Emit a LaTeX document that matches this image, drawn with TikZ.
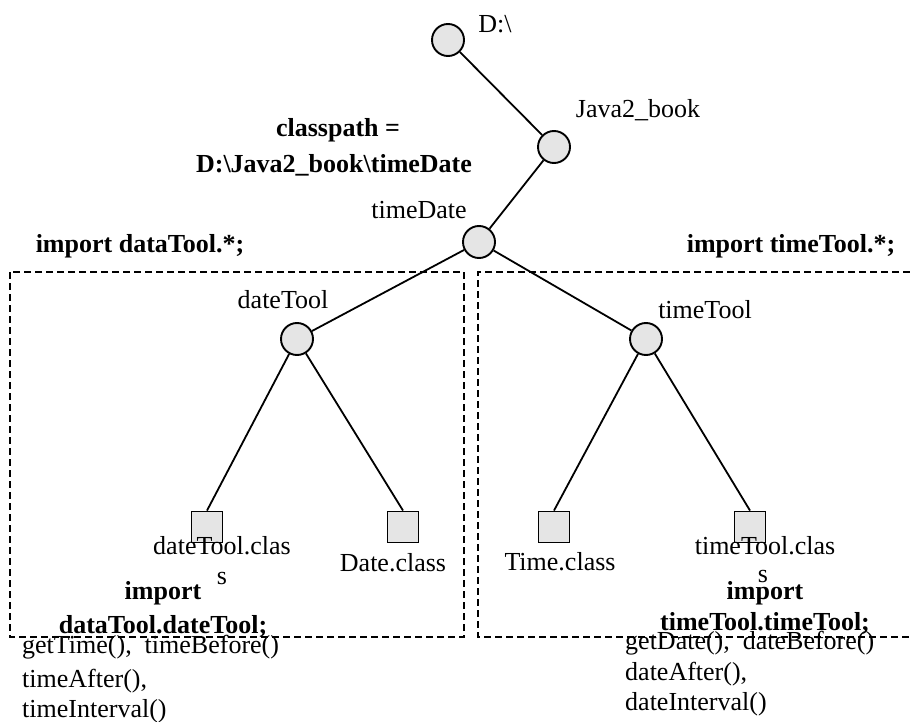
\documentclass[tikz,border=0pt]{standalone}
\usepackage{fontspec}
\setmainfont{Liberation Serif}
\begin{document}
\begin{tikzpicture}[x=1pt,y=-1pt,
  txt/.style={inner sep=0pt,anchor=center,font=\fontsize{26}{30}\selectfont},
  btxt/.style={txt,font=\fontsize{26}{30}\selectfont\bfseries},
  dir/.style={circle,draw,line width=1.9pt,fill=gray!20,minimum size=32pt,inner sep=0pt},
  cls/.style={rectangle,draw,line width=1.9pt,fill=gray!20,minimum size=31pt,inner sep=0pt},
  edge/.style={line width=1.8pt},
  frame/.style={line width=1.5pt,dash pattern=on 7pt off 4pt}]
\useasboundingbox (0,0) rectangle (910,722);
% directory nodes
\node[dir] (d) at (448,40) {};
\node[dir] (j) at (554,147) {};
\node[dir] (t) at (479,242) {};
\node[dir] (dt) at (297,339) {};
\node[dir] (tt) at (646,339) {};
% class files
\node[cls] (s1) at (207,527) {};
\node[cls] (s2) at (403,527) {};
\node[cls] (s3) at (554,527) {};
\node[cls] (s4) at (750,527) {};
% connectors
\draw[edge] (d) -- (j);
\draw[edge] (j) -- (t);
\draw[edge] (t) -- (dt);
\draw[edge] (t) -- (tt);
\draw[edge] (dt) -- (s1.north);
\draw[edge] (dt) -- (s2.north);
\draw[edge] (tt) -- (s3.north);
\draw[edge] (tt) -- (s4.north);
% dashed frames
\draw[frame] (10,272) rectangle (464,637);
\draw[frame] (910,272) -- (478,272) -- (478,637) -- (910,637);
% labels
\node[txt] (ld) at (495,24) {D:\textbackslash};
\node[txt] (lj) at (638,110) {Java2\_book};
\node[btxt] (cp1) at (338,130) {classpath =};
\node[btxt] (cp2) at (334,165) {D:\textbackslash Java2\_book\textbackslash timeDate};
\node[txt] (lt) at (419,210) {timeDate};
\node[btxt] (imp1) at (140,246) {import dataTool.*;};
\node[btxt] (imp2) at (791,246) {import timeTool.*;};
\node[txt] (ldt) at (283,300) {dateTool};
\node[txt] (ltt) at (705,310) {timeTool};
\node[txt] (c1a) at (222,546) {dateTool.clas};
\node[txt] (c1b) at (222,578) {s};
\node[txt] (c2) at (393,563) {Date.class};
\node[txt] (c3) at (560,562) {Time.class};
\node[txt] (c4a) at (765,546) {timeTool.clas};
\node[txt] (c4b) at (763,576) {s};
\node[btxt] (i1a) at (163,593) {import};
\node[btxt] (i1b) at (163,626) {dataTool.dateTool;};
\node[btxt] (i2a) at (765,593) {import};
\node[btxt] (i2b) at (765,623) {timeTool.timeTool;};
\node[txt,anchor=west] (m1a) at (22,647) {getTime(),\ \ timeBefore()};
\node[txt,anchor=west] (m1b) at (22,681) {timeAfter(),};
\node[txt,anchor=west] (m1c) at (22,711) {timeInterval()};
\node[txt,anchor=west] (m2a) at (625,643) {getDate(),\ \ dateBefore()};
\node[txt,anchor=west] (m2b) at (625,674) {dateAfter(),};
\node[txt,anchor=west] (m2c) at (625,704) {dateInterval()};
\end{tikzpicture}
\end{document}
